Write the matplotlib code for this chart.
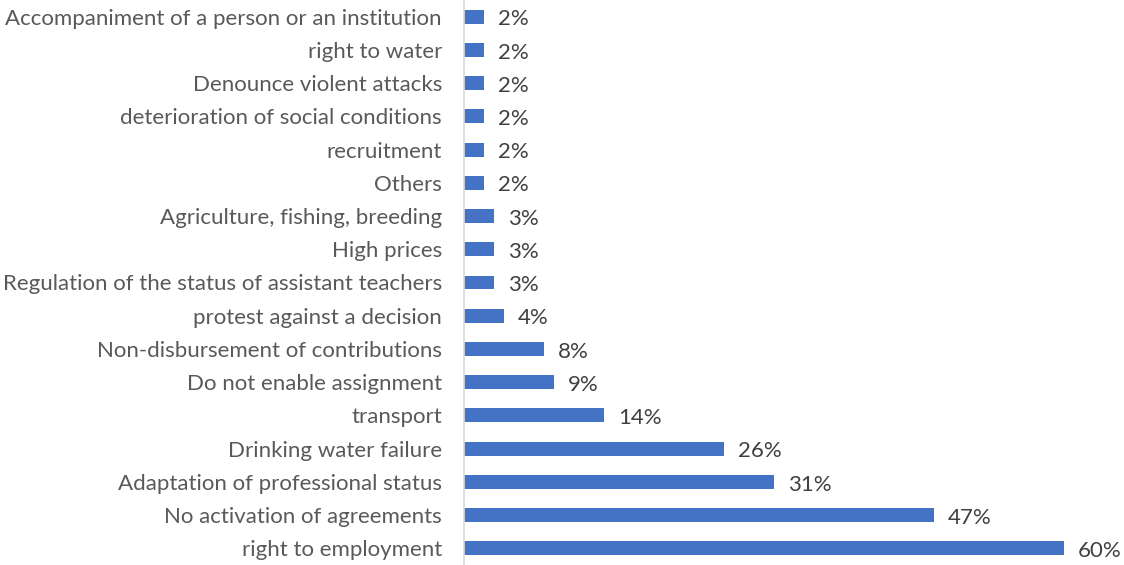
import matplotlib.pyplot as plt

# categories listed from top to bottom
categories = [
    "Accompaniment of a person or an institution",
    "right to water",
    "Denounce violent attacks",
    "deterioration of social conditions",
    "recruitment",
    "Others",
    "Agriculture, fishing, breeding",
    "High prices",
    "Regulation of the status of assistant teachers",
    "protest against a decision",
    "Non-disbursement of contributions",
    "Do not enable assignment",
    "transport",
    "Drinking water failure",
    "Adaptation of professional status",
    "No activation of agreements",
    "right to employment",
]
values = [2, 2, 2, 2, 2, 2, 3, 3, 3, 4, 8, 9, 14, 26, 31, 47, 60]

plt.rcParams['font.family'] = ['Lato', 'DejaVu Sans']
text_color = "#595959"

fig = plt.figure(figsize=(11.24, 5.65), dpi=100)
ax = fig.add_axes([0.413, 0.0, 0.587, 1.0])

ypos = list(range(len(categories)))
ax.barh(ypos, values, height=0.42, color="#4472C4")

for y, v in zip(ypos, values):
    ax.text(v + 1.4, y + 0.08, f"{v}%", va="center", ha="left",
            fontsize=16, color="#404040")

ax.set_yticks(ypos)
ax.set_yticklabels(categories, fontsize=16, color=text_color)
ax.tick_params(axis="y", length=0, pad=16)
ax.set_ylim(len(categories) - 0.5, -0.5)
ax.set_xlim(0, 66)
ax.set_xticks([])

for side in ["top", "right", "bottom"]:
    ax.spines[side].set_visible(False)
ax.spines["left"].set_color("#D9D9D9")
ax.spines["left"].set_linewidth(1.2)

fig.savefig("out.png", dpi=100)
